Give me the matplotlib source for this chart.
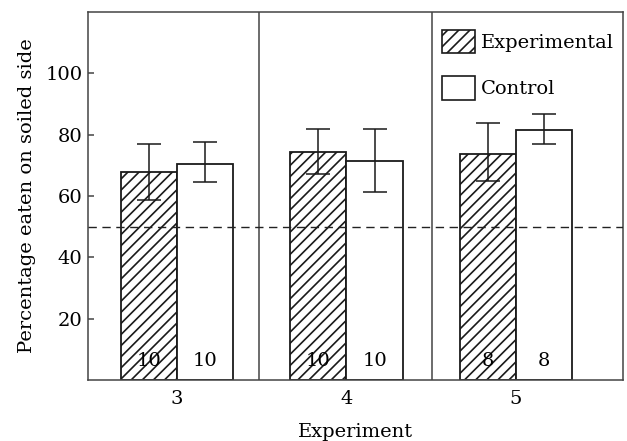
import matplotlib
matplotlib.use("Agg")
import matplotlib.pyplot as plt
import numpy as np
from matplotlib.patches import Patch

plt.rcParams['font.family'] = ['DejaVu Serif']
plt.rcParams['hatch.linewidth'] = 1.2

experiments = ["3", "4", "5"]
exp_mean = [67.7, 74.2, 73.8]
exp_upper = [76.9, 81.9, 83.7]
exp_lower = [58.7, 67.1, 64.9]
ctl_mean = [70.5, 71.3, 81.4]
ctl_upper = [77.6, 81.9, 86.7]
ctl_lower = [64.5, 61.2, 76.8]
exp_n = [10, 10, 8]
ctl_n = [10, 10, 8]
chance_level = 50

fig = plt.figure(figsize=(6.27, 4.41), dpi=100)
ax = fig.add_axes([88/627, 1-380.1/441, (622.7-88)/627, (380.1-11.7)/441])

x = np.arange(len(experiments))
w = 0.332
ec = '#1a1a1a'
fs = 14

exp_err = [np.array(exp_mean) - np.array(exp_lower), np.array(exp_upper) - np.array(exp_mean)]
ctl_err = [np.array(ctl_mean) - np.array(ctl_lower), np.array(ctl_upper) - np.array(ctl_mean)]

ax.axhline(chance_level, color='#222222', lw=1.0, ls=(0, (6, 4)), zorder=5)

ax.bar(x - w/2, exp_mean, w, facecolor='white', edgecolor=ec, hatch='///', lw=1.3, zorder=2)
ax.bar(x + w/2, ctl_mean, w, facecolor='white', edgecolor=ec, lw=1.3, zorder=2)
ax.errorbar(x - w/2, exp_mean, yerr=exp_err, fmt='none', ecolor=ec, elinewidth=1.1,
            capsize=8.6, capthick=1.1, zorder=3)
ax.errorbar(x + w/2, ctl_mean, yerr=ctl_err, fmt='none', ecolor=ec, elinewidth=1.1,
            capsize=8.6, capthick=1.1, zorder=3)

for xi, n in zip(x - w/2, exp_n):
    ax.text(xi, 6.2, str(n), ha='center', va='center', fontsize=fs, zorder=4)
for xi, n in zip(x + w/2, ctl_n):
    ax.text(xi, 6.2, str(n), ha='center', va='center', fontsize=fs, zorder=4)

for d in [0.484, 1.504]:
    ax.axvline(d, color='#444444', lw=1.1, zorder=1)

ax.set_xlim(-0.525, 2.63)
ax.set_ylim(0, 120)
ax.set_yticks([20, 40, 60, 80, 100])
ax.set_xticks(x)
ax.set_xticklabels(experiments)
ax.tick_params(axis='y', direction='in', length=4.3, width=1.1, color='#444444', labelsize=fs, pad=4)
ax.tick_params(axis='x', length=0, labelsize=fs, pad=7)
for s in ax.spines.values():
    s.set_color('#444444')
    s.set_linewidth(1.1)

ax.set_ylabel("Percentage eaten on soiled side", fontsize=fs, labelpad=7)
ax.set_xlabel("Experiment", fontsize=fs, labelpad=11)

handles = [Patch(facecolor='white', edgecolor=ec, hatch='///', lw=1.2, label='Experimental'),
           Patch(facecolor='white', edgecolor=ec, lw=1.2, label='Control')]
leg = ax.legend(handles=handles, loc='upper left', bbox_to_anchor=(441.7/627, 1-30/441),
                bbox_transform=fig.transFigure, frameon=False, fontsize=fs,
                handlelength=1.7, handleheight=1.45, handletextpad=0.3,
                labelspacing=1.2, borderpad=0, borderaxespad=0)

fig.savefig("out.png", dpi=100)
